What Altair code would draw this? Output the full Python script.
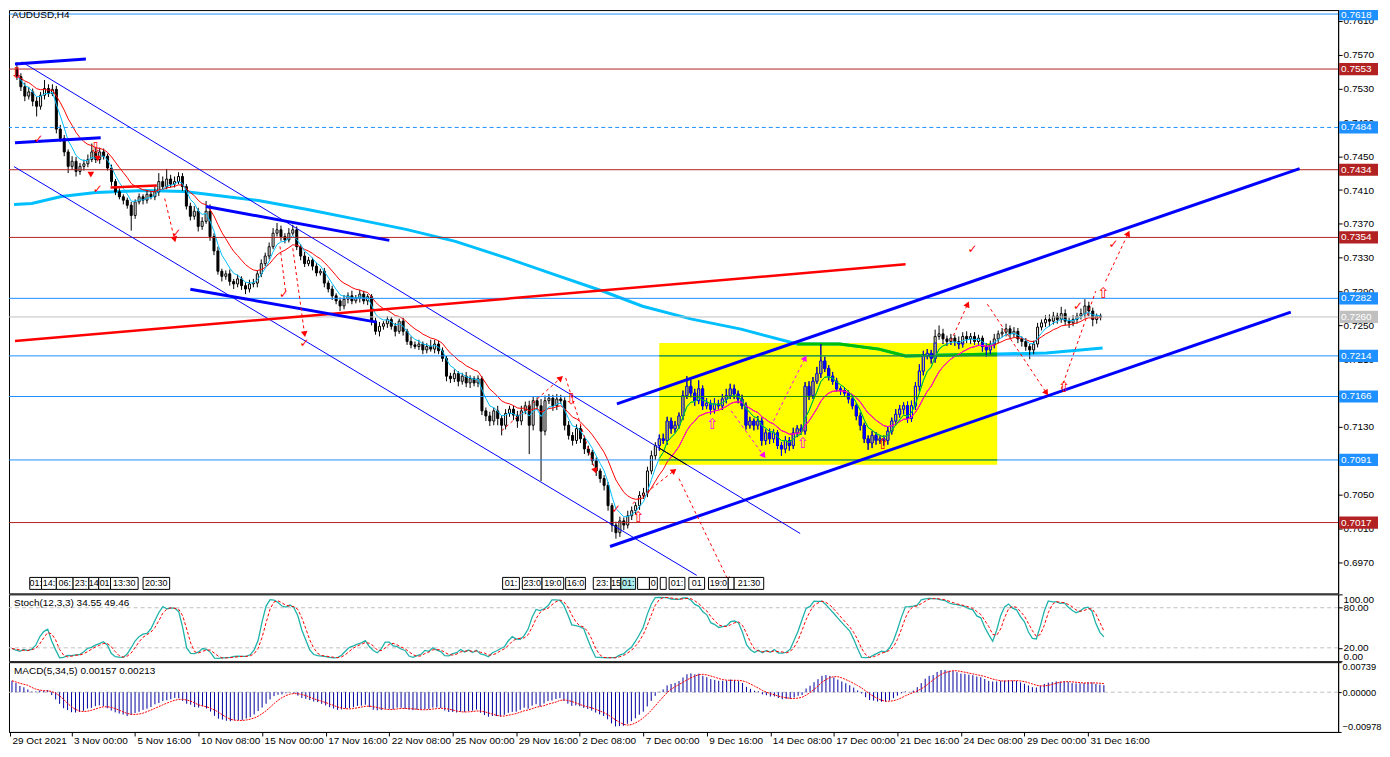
import altair as alt
import numpy as np
import pandas as pd

SYMBOL = "AUDUSD,H4"

# ---------------- candles: one H4 bar per entry, prices in 1e-4 units ----------------
first_open = 7553
closes = [
    7544, 7532, 7521, 7526, 7515, 7509, 7522, 7530, 7524, 7529,
    7482, 7471, 7455, 7438, 7444, 7432, 7438, 7441, 7446, 7455,
    7446, 7455, 7450, 7436, 7420, 7408, 7402, 7398, 7392, 7380,
    7396, 7402, 7398, 7405, 7402, 7408, 7420, 7414, 7423, 7417,
    7420, 7426, 7414, 7391, 7379, 7385, 7367, 7373, 7385, 7355,
    7338, 7314, 7308, 7311, 7302, 7299, 7305, 7297, 7293, 7299,
    7300, 7311, 7323, 7332, 7343, 7359, 7363, 7355, 7351, 7359,
    7363, 7343, 7332, 7323, 7327, 7320, 7312, 7314, 7300, 7293,
    7285, 7279, 7273, 7281, 7285, 7279, 7282, 7287, 7279, 7284,
    7255, 7243, 7249, 7252, 7257, 7249, 7243, 7255, 7243, 7231,
    7227, 7225, 7228, 7221, 7225, 7222, 7228, 7220, 7211, 7190,
    7187, 7193, 7184, 7190, 7182, 7187, 7182, 7187, 7149, 7143,
    7137, 7149, 7140, 7132, 7146, 7151, 7144, 7137, 7149, 7155,
    7132, 7161, 7155, 7125, 7161, 7164, 7155, 7163, 7161, 7132,
    7120, 7114, 7128, 7116, 7104, 7100, 7090, 7078, 7069, 7061,
    7037, 7014, 7005, 7019, 7014, 7025, 7031, 7037, 7049, 7052,
    7078, 7096, 7108, 7116, 7114, 7137, 7128, 7132, 7143, 7167,
    7178, 7170, 7161, 7175, 7155, 7158, 7151, 7157, 7155, 7163,
    7167, 7175, 7169, 7163, 7155, 7132, 7137, 7132, 7137, 7114,
    7123, 7116, 7123, 7108, 7104, 7114, 7108, 7123, 7128, 7125,
    7178, 7167, 7184, 7193, 7208, 7199, 7190, 7184, 7175, 7173,
    7170, 7163, 7155, 7143, 7132, 7116, 7111, 7120, 7114, 7116,
    7114, 7125, 7137, 7145, 7151, 7155, 7140, 7155, 7178, 7196,
    7214, 7217, 7211, 7237, 7240, 7234, 7231, 7235, 7231, 7228,
    7237, 7234, 7237, 7231, 7235, 7225, 7221, 7227, 7234, 7240,
    7242, 7246, 7240, 7243, 7234, 7231, 7225, 7221, 7228, 7248,
    7253, 7257, 7255, 7261, 7257, 7264, 7255, 7253, 7257, 7261,
    7264, 7273, 7267, 7257, 7261, 7260,
]
upper_wick = [
    8, 4, 5, 6, 4, 5, 4, 10, 5, 6,
    4, 5, 4, 3, 6, 5, 4, 5, 6, 10,
    6, 5, 4, 3, 4, 3, 4, 3, 3, 4,
    3, 4, 3, 5, 4, 6, 10, 6, 12, 5,
    6, 5, 4, 3, 4, 6, 4, 5, 12, 8,
    4, 5, 3, 4, 5, 3, 5, 3, 4, 5,
    5, 4, 5, 4, 5, 6, 8, 5, 4, 6,
    6, 4, 3, 5, 4, 3, 4, 3, 4, 3,
    4, 3, 4, 5, 4, 6, 4, 5, 4, 3,
    3, 4, 5, 3, 4, 3, 4, 3, 4, 3,
    6, 4, 5, 3, 4, 8, 5, 4, 4, 3,
    4, 5, 3, 4, 5, 4, 3, 4, 3, 4,
    5, 4, 6, 4, 5, 4, 4, 5, 6, 5,
    6, 5, 4, 8, 6, 5, 4, 6, 5, 4,
    5, 4, 5, 4, 3, 4, 3, 4, 3, 4,
    4, 3, 4, 5, 4, 6, 5, 4, 5, 6,
    5, 6, 4, 5, 6, 5, 4, 5, 4, 6,
    12, 8, 5, 10, 4, 6, 4, 7, 5, 6,
    8, 6, 5, 4, 5, 4, 5, 3, 6, 4,
    4, 5, 4, 3, 4, 5, 4, 6, 4, 5,
    5, 6, 5, 8, 20, 5, 4, 5, 4, 3,
    4, 3, 4, 3, 4, 3, 4, 5, 4, 3,
    4, 5, 4, 6, 5, 4, 5, 6, 5, 8,
    6, 5, 4, 8, 10, 6, 4, 5, 4, 6,
    5, 6, 4, 5, 4, 3, 4, 5, 6, 4,
    5, 6, 4, 5, 4, 3, 4, 3, 4, 5,
    4, 5, 6, 5, 4, 8, 5, 4, 5, 4,
    6, 8, 5, 4, 3, 3,
]
lower_wick = [
    4, 5, 6, 4, 6, 12, 4, 5, 4, 3,
    5, 4, 5, 8, 4, 6, 4, 5, 4, 3,
    4, 5, 4, 3, 5, 4, 3, 5, 4, 18,
    4, 3, 5, 4, 3, 4, 5, 4, 3, 4,
    4, 3, 5, 4, 5, 4, 6, 4, 3, 5,
    5, 4, 6, 4, 5, 6, 4, 5, 6, 4,
    4, 5, 4, 3, 4, 3, 4, 5, 4, 3,
    3, 4, 5, 4, 3, 5, 4, 3, 5, 4,
    5, 4, 6, 4, 5, 4, 3, 5, 4, 5,
    5, 4, 6, 4, 5, 4, 6, 3, 5, 4,
    4, 3, 4, 5, 4, 3, 5, 4, 4, 6,
    5, 4, 6, 4, 5, 6, 4, 5, 5, 6,
    6, 5, 8, 12, 5, 4, 6, 8, 5, 4,
    34, 6, 5, 59, 5, 4, 6, 5, 4, 6,
    5, 6, 4, 5, 6, 4, 5, 6, 5, 6,
    6, 8, 7, 5, 6, 4, 5, 4, 5, 4,
    5, 4, 5, 6, 4, 5, 6, 5, 4, 5,
    4, 5, 6, 4, 5, 4, 6, 5, 4, 5,
    5, 4, 6, 5, 4, 5, 4, 6, 5, 6,
    5, 6, 5, 4, 8, 5, 6, 4, 5, 4,
    4, 5, 4, 3, 5, 4, 5, 4, 3, 5,
    4, 5, 4, 5, 6, 5, 8, 6, 5, 4,
    6, 5, 4, 5, 4, 6, 5, 4, 5, 6,
    5, 4, 6, 5, 4, 6, 5, 4, 5, 6,
    4, 5, 6, 4, 5, 6, 8, 5, 4, 5,
    4, 5, 6, 4, 5, 6, 5, 11, 5, 4,
    4, 5, 6, 4, 5, 4, 5, 6, 4, 5,
    4, 5, 6, 8, 5, 4,
]

# x-axis (bar index) date labels
date_tick_bars = [-0.5, 15, 31, 47, 63, 79, 95, 111, 127, 143, 159, 175, 191, 207, 223, 239, 255, 271]
date_tick_labels = ["29 Oct 2021", "3 Nov 00:00", "5 Nov 16:00", "10 Nov 08:00", "15 Nov 00:00",
                    "17 Nov 16:00", "22 Nov 08:00", "25 Nov 00:00", "29 Nov 16:00", "2 Dec 08:00",
                    "7 Dec 00:00", "9 Dec 16:00", "14 Dec 08:00", "17 Dec 00:00", "21 Dec 16:00",
                    "24 Dec 08:00", "29 Dec 00:00", "31 Dec 16:00"]
price_ticks = [0.6970, 0.7010, 0.7050, 0.7090, 0.7130, 0.7170, 0.7210, 0.7250, 0.7290,
               0.7330, 0.7370, 0.7410, 0.7450, 0.7490, 0.7530, 0.7570, 0.7610]

# horizontal levels
levels = [0.7618, 0.7553, 0.7484, 0.7434, 0.7354, 0.7282, 0.7260, 0.7214, 0.7166, 0.7091, 0.7017]
level_colors = ["#1E90FF", "#B22222", "#1E90FF", "#B22222", "#B22222", "#1E90FF", "#C0C0C0",
                "#1E90FF", "#1E90FF", "#1E90FF", "#B22222"]
level_dashed = [False, False, True, False, False, False, False, False, False, False, False]

# long moving average (sampled)
ma_long_bars = [-0.75, 3.75, 11.25, 20, 32.5, 42.5, 48.75, 61.25, 73.75, 86.25, 98.75, 111.25, 123.75,
                136.25, 148.75, 158.75, 171.25, 183.75, 198, 208.75, 218.75, 225.5, 236.25, 248.75,
                261.25, 275.5]
ma_long_vals = [0.73929, 0.73941, 0.74024, 0.74071, 0.74094, 0.74082, 0.74047, 0.73976, 0.73870,
                0.73753, 0.73635, 0.73493, 0.73305, 0.73104, 0.72904, 0.72727, 0.72574, 0.72456,
                0.72280, 0.72280, 0.72220, 0.72138, 0.72150, 0.72162, 0.72173, 0.72232]

# yellow rectangle (bars, prices)
rect_bars = [163, 248.75]
rect_prices = [0.70853, 0.72291]

# trend lines (x1, y1, x2, y2)
thick_blue_lines = [(-0.5, 0.75591, 17.5, 0.75650), (-0.5, 0.74660, 21.25, 0.74719),
                    (48, 0.73906, 94.5, 0.73505), (44, 0.72928, 91.25, 0.72539),
                    (150.5, 0.69887, 323.25, 0.72657), (152.25, 0.71573, 325.5, 0.74354)]
thin_blue_lines = [(1.25, 0.75614, 198.75, 0.70041), (-0.75, 0.74377, 172.5, 0.69546)]
thick_red_lines = [(-0.5, 0.72315, 225.5, 0.73222), (23.75, 0.74130, 35.5, 0.74153)]

dashed_red = [(37.5, 0.7400, 40, 0.73517), (66.75, 0.73434, 68.25, 0.72869), (70, 0.73411, 73, 0.72397),
              (123, 0.71254, 138, 0.71879), (139.25, 0.71879, 146.75, 0.70783),
              (156.25, 0.70394, 166.75, 0.70783), (168, 0.70689, 180.5, 0.69487),
              (237, 0.72315, 241.25, 0.72751), (246.25, 0.72751, 261.25, 0.71702),
              (265, 0.71749, 273.75, 0.72904), (276.25, 0.73022, 282, 0.73588)]
dashed_magenta = [(181.25, 0.7149, 189.5, 0.7096), (192, 0.71372, 200, 0.72115)]

# arrow heads (x, price, angle, colour)
arrow_heads = [(40, 0.73517, 166, "#FF0000"), (73, 0.72397, 172, "#FF0000"), (138, 0.71879, 48, "#FF0000"),
               (146.75, 0.70783, 162, "#FF0000"), (166.75, 0.70783, 52, "#FF0000"),
               (180.5, 0.69487, 154, "#FF0000"), (241.25, 0.72751, 25, "#FF0000"),
               (261.25, 0.71702, 146, "#FF0000"), (282, 0.73588, 26, "#FF0000"),
               (189.5, 0.7096, 144, "#FF00FF"), (200, 0.72115, 27, "#FF00FF"),
               (20.5, 0.74471, 180, "#FF0000"), (18.75, 0.74283, 180, "#FF0000")]
check_marks = [(5.5, 0.74707), (20.5, 0.74118), (40.5, 0.73588), (67.75, 0.72869), (73, 0.72291),
               (152, 0.70335), (242.5, 0.73399), (278.25, 0.73458), (269.25, 0.72727)]
hollow_up = [(157.75, 0.70241, "#FF0000"), (265.75, 0.71773, "#FF0000"), (275.75, 0.72880, "#FF0000"),
             (219.75, 0.71101, "#FF0000"), (176.5, 0.71337, "#FF00FF"), (199.5, 0.71113, "#FF00FF")]
hollow_down = [(140.75, 0.71632, "#FF0000"), (0, 0.75480, "#FF0000"), (20, 0.74600, "#FF0000")]

# small time-label boxes along the bottom of the price panel (bar from, bar to, text, fill)
time_boxes = [(3.25, 6.25, "01:", "white"), (6.25, 10, "14:", "white"), (10, 14.25, "06:", "white"),
              (14.25, 18.25, "23:", "white"), (18.25, 20.75, "14", "white"), (20.75, 23.75, "01", "white"),
              (23.75, 30.75, "13:30", "white"), (32, 38.75, "20:30", "white"),
              (123.25, 127.5, "01:", "white"), (128.25, 133.25, "23:0", "white"),
              (133.25, 138.75, "19:0", "white"), (139.25, 144.25, "16:0", "white"),
              (146.25, 150.75, "23:", "white"), (150.75, 153.25, "15", "white"),
              (153.25, 157, "01:", "#AEEEEE"), (157.5, 160.5, "", "white"), (160.5, 162.5, "0", "white"),
              (163.25, 164.75, "", "white"), (165.5, 169.5, "01:", "white"), (170.5, 174.5, "01", "white"),
              (175.5, 180.5, "19:0", "white"), (180.5, 182, "", "white"), (182, 189.5, "21:30", "white")]

stoch_text = "Stoch(12,3,3) 34.55 49.46"
macd_text = "MACD(5,34,5) 0.00157 0.00213"
macd_fast_seed = 0.7548
macd_slow_seed = 0.7517

# ---------------- derived tables ----------------
n = len(closes)
close = np.array(closes, dtype=float) / 10000
open_ = np.concatenate([[first_open / 10000], close[:-1]])
high = np.maximum(open_, close) + np.array(upper_wick[:n]) / 10000
low = np.minimum(open_, close) - np.array(lower_wick[:n]) / 10000
bars = np.arange(n, dtype=float)

cdf = pd.DataFrame({"x": bars, "o": open_, "c": close, "h": high, "l": low})
cdf["blo"] = np.minimum(cdf.o, cdf.c)
cdf["bhi"] = np.maximum(cdf.o, cdf.c)
cdf["bull"] = cdf.c >= cdf.o

RX0, RX1 = rect_bars
RY0, RY1 = rect_prices

ov = cdf[(cdf.x >= RX0) & (cdf.x <= RX1)].copy()
ov["wl"] = ov.l.clip(lower=RY0)
ov["wh"] = ov.h.clip(upper=RY1)
ov["bl"] = ov.blo.clip(lower=RY0)
ov["bh"] = ov.bhi.clip(upper=RY1)
wick_ov = ov[ov.wl < ov.wh]
body_ov = ov[ov.bl <= ov.bh]


def inside_runs(xs, ys):
    rows, seg, prev = [], 0, False
    for xv, yv in zip(xs, ys):
        ins = (RX0 <= xv <= RX1) and (RY0 <= yv <= RY1)
        if ins:
            if not prev:
                seg += 1
            rows.append({"x": xv, "y": yv, "seg": seg})
        prev = ins
    return pd.DataFrame(rows, columns=["x", "y", "seg"])


ema_slow = pd.Series(close).ewm(span=12, adjust=False).mean().values
ema_fast = pd.Series(close).ewm(span=5, adjust=False).mean().values
ma_df = pd.DataFrame({"x": bars, "slow": ema_slow, "fast": ema_fast})
slow_in = inside_runs(bars, ema_slow)
fast_in = inside_runs(bars, ema_fast)
long_df = pd.DataFrame({"x": ma_long_bars, "y": ma_long_vals})
long_in = inside_runs(ma_long_bars, ma_long_vals)

# stochastic (12,3,3)
hh = pd.Series(high).rolling(12, min_periods=1).max()
ll = pd.Series(low).rolling(12, min_periods=1).min()
num = (pd.Series(close) - ll).rolling(3, min_periods=1).sum()
den = (hh - ll).rolling(3, min_periods=1).sum()
k_line = 100 * num / den
d_line = k_line.rolling(3, min_periods=1).mean()
st_df = pd.DataFrame({"x": bars, "k": k_line.values, "d": d_line.values})

# MACD (5,34,5)
ef, es = macd_fast_seed, macd_slow_seed
macd_vals = []
for cv in close:
    ef = ef + 2 / 6 * (cv - ef)
    es = es + 2 / 35 * (cv - es)
    macd_vals.append(ef - es)
macd_vals = np.array(macd_vals)
macd_sig = pd.Series(macd_vals).rolling(5, min_periods=1).mean().values
md_df = pd.DataFrame({"x": bars, "m": macd_vals, "s": macd_sig, "z": 0.0})

# ---------------- scales / axes ----------------
W = 1333
H_MAIN = 585
FONT = "Liberation Sans"
Y_TOP = 0.76227
XS = alt.Scale(domain=[-0.75, 334.0], nice=False, zero=False)
YS = alt.Scale(domain=[0.69333, Y_TOP], nice=False, zero=False)
yax = alt.Axis(orient="right", values=price_ticks, format=".4f", title=None, grid=False, tickSize=4,
               labelPadding=1, labelFontSize=10, labelOverlap=False, zindex=0)


def X(f="x"):
    return alt.X(f"{f}:Q", scale=XS, axis=None)


def Y(f="y"):
    return alt.Y(f"{f}:Q", scale=YS, axis=yax)


def seg_df(rows):
    return pd.DataFrame(rows, columns=["x", "y", "x2", "y2"])


def seg_layer(rows, color, width, dash=None):
    kw = dict(color=color, strokeWidth=width, clip=True)
    if dash:
        kw["strokeDash"] = dash
    return alt.Chart(seg_df(rows)).mark_rule(**kw).encode(x=X("x"), x2="x2:Q", y=Y("y"), y2="y2:Q")


layers = []
# yellow rectangle
layers.append(alt.Chart(pd.DataFrame({"x": [RX0], "x2": [RX1], "y": [RY0], "y2": [RY1]}))
              .mark_rect(color="#FFFF00", clip=True).encode(x=X("x"), x2="x2:Q", y=Y("y"), y2="y2:Q"))
# long MA
layers.append(alt.Chart(long_df).mark_line(color="#00BFFF", strokeWidth=3, clip=True).encode(x=X(), y=Y()))
layers.append(alt.Chart(long_in).mark_line(color="#00BF00", strokeWidth=3, clip=True)
              .encode(x=X(), y=Y(), detail="seg:N"))
# candles
layers.append(alt.Chart(cdf).mark_rule(color="black", strokeWidth=1, clip=True)
              .encode(x=X(), y=Y("l"), y2="h:Q"))
layers.append(alt.Chart(cdf[cdf.bull]).mark_bar(size=2, fill="white", stroke="black", strokeWidth=1, clip=True)
              .encode(x=X(), y=Y("blo"), y2="bhi:Q"))
layers.append(alt.Chart(cdf[~cdf.bull]).mark_bar(size=2, fill="black", stroke="black", strokeWidth=1, clip=True)
              .encode(x=X(), y=Y("blo"), y2="bhi:Q"))
layers.append(alt.Chart(wick_ov).mark_rule(color="#0000FF", strokeWidth=1, clip=True)
              .encode(x=X(), y=Y("wl"), y2="wh:Q"))
layers.append(alt.Chart(body_ov[body_ov.bull]).mark_bar(size=2, fill="#FFFF00", stroke="#0000FF", strokeWidth=1, clip=True)
              .encode(x=X(), y=Y("bl"), y2="bh:Q"))
layers.append(alt.Chart(body_ov[~body_ov.bull]).mark_bar(size=2, fill="#0000FF", stroke="#0000FF", strokeWidth=1, clip=True)
              .encode(x=X(), y=Y("bl"), y2="bh:Q"))
# short MAs
layers.append(alt.Chart(ma_df).mark_line(color="#FF0000", strokeWidth=1, clip=True).encode(x=X(), y=Y("slow")))
layers.append(alt.Chart(ma_df).mark_line(color="#00BFFF", strokeWidth=1, clip=True).encode(x=X(), y=Y("fast")))
layers.append(alt.Chart(slow_in).mark_line(color="#FF00FF", strokeWidth=1, clip=True)
              .encode(x=X(), y=Y(), detail="seg:N"))
layers.append(alt.Chart(fast_in).mark_line(color="#00BF00", strokeWidth=1, clip=True)
              .encode(x=X(), y=Y(), detail="seg:N"))
# levels
lv = pd.DataFrame({"y": levels, "col": level_colors, "dash": level_dashed})
layers.append(alt.Chart(lv[~lv.dash]).mark_rule(strokeWidth=1).encode(y=Y(), color=alt.Color("col:N", scale=None)))
for _, r in lv[lv.dash].iterrows():
    layers.append(alt.Chart(pd.DataFrame({"y": [r.y]})).mark_rule(strokeWidth=1, strokeDash=[4, 3], color=r.col)
                  .encode(y=Y()))
lv_in = lv[(lv.y >= RY0) & (lv.y <= RY1)].copy()
lv_in["x"] = RX0
lv_in["x2"] = RX1
layers.append(alt.Chart(lv_in).mark_rule(color="#1E9000", strokeWidth=1)
              .encode(x=X("x"), x2="x2:Q", y=Y()))
# trend lines
layers.append(seg_layer(thin_blue_lines, "#0000FF", 1))
t = thin_blue_lines[0]
slope = (t[3] - t[1]) / (t[2] - t[0])
x_exit = t[0] + (RY0 - t[1]) / slope
layers.append(seg_layer([(RX0, t[1] + slope * (RX0 - t[0]), x_exit, RY0)], "black", 1))
layers.append(seg_layer(thick_red_lines, "#FF0000", 2.5))
layers.append(seg_layer(thick_blue_lines, "#0000FF", 3))
layers.append(seg_layer(dashed_red, "#FF0000", 1, [3, 3]))
layers.append(seg_layer(dashed_magenta, "#FF00FF", 1, [3, 3]))
ah = pd.DataFrame(arrow_heads, columns=["x", "y", "ang", "col"])
layers.append(alt.Chart(ah).mark_point(shape="triangle-up", filled=True, size=45, opacity=1, clip=True)
              .encode(x=X(), y=Y(), angle=alt.Angle("ang:Q", scale=None), color=alt.Color("col:N", scale=None)))
ck = pd.DataFrame(check_marks, columns=["x", "y"])
ck["t"] = "\u2713"
layers.append(alt.Chart(ck).mark_text(font="DejaVu Sans", fontSize=12, color="#FF0000", fontWeight="bold")
              .encode(x=X(), y=Y(), text="t:N"))
hu = pd.DataFrame(hollow_up, columns=["x", "y", "col"])
hu["t"] = "\u21e7"
layers.append(alt.Chart(hu).mark_text(font="DejaVu Sans", fontSize=15)
              .encode(x=X(), y=Y(), text="t:N", color=alt.Color("col:N", scale=None)))
hd = pd.DataFrame(hollow_down, columns=["x", "y", "col"])
hd["t"] = "\u21e9"
layers.append(alt.Chart(hd).mark_text(font="DejaVu Sans", fontSize=15)
              .encode(x=X(), y=Y(), text="t:N", color=alt.Color("col:N", scale=None)))
# time-label boxes at the bottom of the price panel
tb = pd.DataFrame(time_boxes, columns=["x", "x2", "t", "fill"])
tb["xm"] = (tb.x + tb.x2) / 2
layers.append(alt.Chart(tb).mark_rect(stroke="black", strokeWidth=1)
              .encode(x=X("x"), x2="x2:Q", y=alt.value(H_MAIN - 16), y2=alt.value(H_MAIN - 4),
                      fill=alt.Color("fill:N", scale=None)))
layers.append(alt.Chart(tb).mark_text(fontSize=9, font=FONT, color="black", baseline="middle")
              .encode(x=X("xm"), y=alt.value(H_MAIN - 10), text="t:N"))
# title
layers.append(alt.Chart(pd.DataFrame({"t": [SYMBOL]})).mark_text(align="left", baseline="top", fontSize=10,
                                                                    font=FONT, color="black")
              .encode(x=alt.value(3), y=alt.value(0), text="t:N"))
# price label boxes
half = 0.00072
lb = pd.DataFrame({"p": levels, "lo": [v - half for v in levels], "hi": [min(v + half, Y_TOP) for v in levels],
                   "col": level_colors, "txt": [f"{v:.4f}" for v in levels]})
lb["mid"] = (lb.lo + lb.hi) / 2
layers.append(alt.Chart(lb).mark_rect(clip=False)
              .encode(x=alt.value(W + 1), x2=alt.value(W + 40), y=Y("lo"), y2="hi:Q",
                      color=alt.Color("col:N", scale=None)))
layers.append(alt.Chart(lb).mark_text(align="left", baseline="middle", fontSize=10, font=FONT, color="white", clip=False)
              .encode(x=alt.value(W + 3), y=Y("mid"), text="txt:N"))

main = alt.layer(*layers).properties(width=W, height=H_MAIN)

# ---------------- stochastic ----------------
SS = alt.Scale(domain=[0, 100], nice=False, zero=False)
sax = alt.Axis(orient="right", values=[0, 20, 80, 100], format=".2f", title=None, grid=False, tickSize=4,
               labelPadding=1, labelFontSize=10, labelOverlap=False, labelFlush=True)
st_layers = [
    alt.Chart(pd.DataFrame({"y": [20, 80]})).mark_rule(color="#C0C0C0", strokeDash=[4, 3], strokeWidth=1)
    .encode(y=alt.Y("y:Q", scale=SS, axis=sax)),
    alt.Chart(st_df).mark_line(color="#20B2AA", strokeWidth=1.3, clip=True)
    .encode(x=X(), y=alt.Y("k:Q", scale=SS, axis=sax)),
    alt.Chart(st_df).mark_line(color="#FF0000", strokeWidth=1, strokeDash=[3, 2], clip=True)
    .encode(x=X(), y=alt.Y("d:Q", scale=SS, axis=sax)),
    alt.Chart(pd.DataFrame({"t": [stoch_text]})).mark_text(align="left", baseline="middle", fontSize=10,
                                                          font=FONT, color="black")
    .encode(x=alt.value(5), y=alt.value(9), text="t:N"),
]
stoch = alt.layer(*st_layers).properties(width=W, height=67)

# ---------------- MACD ----------------
MS = alt.Scale(domain=[-0.00978, 0.00739], nice=False, zero=False)
max_ = alt.Axis(orient="right", values=[-0.00978, 0.0, 0.00739], format=".5f", title=None, grid=False,
                tickSize=3, labelPadding=1, labelFontSize=9.3, labelOverlap=False, labelFlush=True)
label_expr = ("[" + ",".join(f"'{s}'" for s in date_tick_labels) + "][indexof(["
              + ",".join(str(v) for v in date_tick_bars) + "], datum.value)]")
xax = alt.Axis(values=date_tick_bars, labelExpr=label_expr, labelAlign="left", labelOffset=2, tickSize=4,
               labelPadding=0, grid=False, title=None, labelOverlap=False, labelFontSize=10, labelBound=False,
               labelFlush=False)
XM = alt.X("x:Q", scale=XS, axis=xax)
md_layers = [
    alt.Chart(pd.DataFrame({"y": [0.0]})).mark_rule(color="#C0C0C0", strokeDash=[4, 3], strokeWidth=1)
    .encode(y=alt.Y("y:Q", scale=MS, axis=max_)),
    alt.Chart(md_df).mark_rule(color="#0000A0", strokeWidth=1, clip=True)
    .encode(x=XM, y=alt.Y("z:Q", scale=MS, axis=max_), y2="m:Q"),
    alt.Chart(md_df).mark_line(color="#FF0000", strokeWidth=1, strokeDash=[2, 1], clip=True)
    .encode(x=XM, y=alt.Y("s:Q", scale=MS, axis=max_)),
    alt.Chart(pd.DataFrame({"t": [macd_text]})).mark_text(align="left", baseline="middle", fontSize=10,
                                                         font=FONT, color="black")
    .encode(x=alt.value(5), y=alt.value(9), text="t:N"),
]
macd = alt.layer(*md_layers).properties(width=W, height=70)

chart = (alt.vconcat(main, stoch, macd, spacing=1, bounds="flush")
         .properties(padding={"left": 0, "top": 0, "right": 0, "bottom": 0}, background="white")
         .configure_view(stroke="black", strokeWidth=1)
         .configure_axis(labelFont=FONT, labelColor="black", tickColor="black", domainColor="black"))

chart.save("out.html", embed_options={"renderer": "svg", "actions": False})
